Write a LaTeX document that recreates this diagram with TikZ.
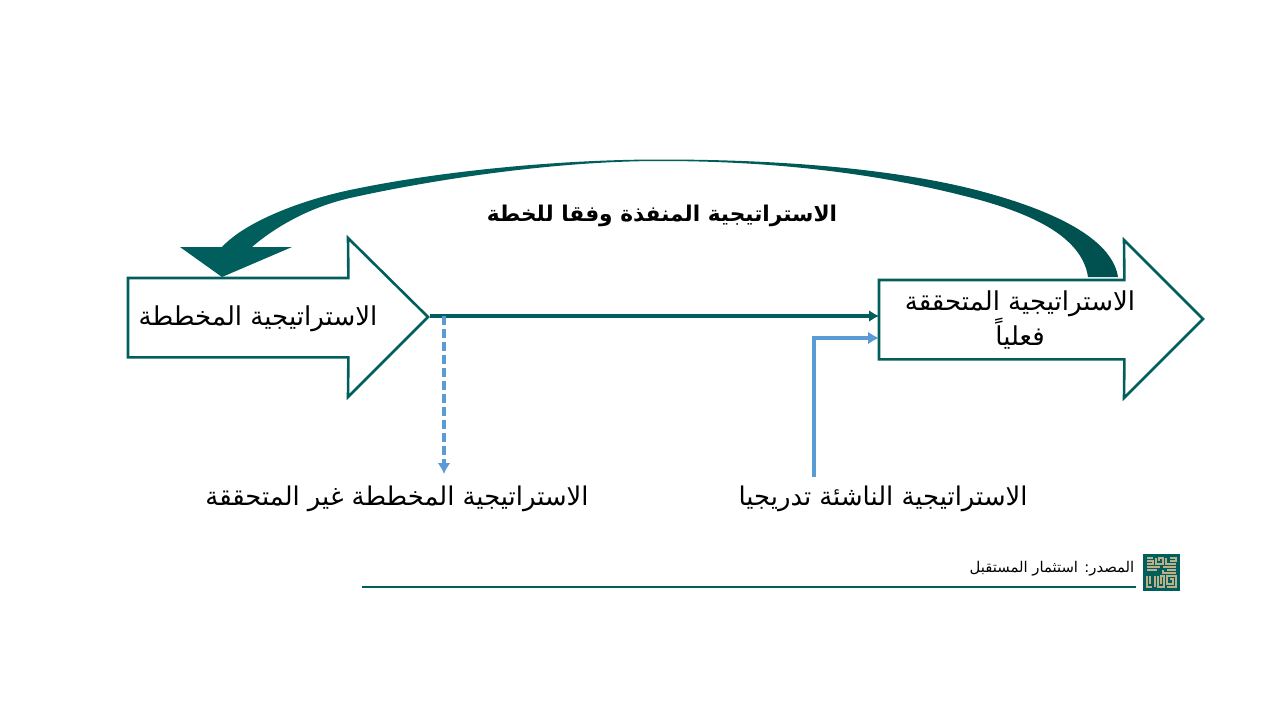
\documentclass[tikz,border=0pt]{standalone}
\usepackage{fontspec}
\usetikzlibrary{arrows.meta}
\TeXXeTstate=1
\newfontfamily\arabicfont[Script=Arabic]{DejaVu Sans}
\definecolor{teal1}{HTML}{005F5C}
\definecolor{teal2}{HTML}{00504F}
\definecolor{blue1}{HTML}{5B9BD5}
\definecolor{tan1}{HTML}{BDB088}
\newcommand{\artxt}[1]{\arabicfont\beginR #1\endR}
\tikzset{
  bodybox/.style={rectangle,inner sep=0pt,minimum height=79pt,anchor=north west},
  outline/.style={draw=teal1,line width=2.6pt,fill=white,line join=miter},
  label/.style={text=black,font=\fontsize{26}{32}\selectfont,align=center,inner sep=0pt},
  tealline/.style={draw=teal1,line width=3.6pt,-{Latex[length=10pt,width=12pt]}},
  blueline/.style={draw=blue1,line width=3.8pt,-{Latex[length=11pt,width=13pt]}},
  logoline/.style={draw=tan1,line width=1.1pt}
}
\begin{document}
\begin{tikzpicture}[x=1pt,y=-1pt]
\useasboundingbox[fill=white] (0,0) rectangle (1280,720);
% big arrows
\node[bodybox,minimum width=220pt] (plan) at (128,278) {};
\node[bodybox,minimum width=245pt] (actual) at (879,280) {};
\draw[outline] (plan.north west) -- (plan.north east) -- (348,238) -- (428,317) -- (348,397) -- (plan.south east) -- (plan.south west) -- cycle;
\draw[outline] (actual.north west) -- (actual.north east) -- (1124,240) -- (1203,319) -- (1124,398) -- (actual.south east) -- (actual.south west) -- cycle;
\coordinate (plantip) at (430,316);
\coordinate (branch) at (444,316);
\coordinate (dashend) at (444,474);
\coordinate (emerge) at (814,477);
\coordinate (emergein) at (879,338);
% sweeping arrow
\shade[left color=teal1,right color=teal2,middle color=teal1,shading angle=90]
  (1118,277) .. controls (1112,238) and (1052,210) .. (980,191)
  .. controls (900,170) and (790,159.5) .. (660,159.5)
  .. controls (560,159.5) and (440,171) .. (350,190)
  .. controls (300,200.5) and (245,222) .. (222,247)
  -- (180,247) -- (222,277) -- (292,247) -- (252,247)
  .. controls (275,227) and (310,207) .. (350,198)
  .. controls (440,178) and (560,161) .. (660,161)
  .. controls (790,161) and (895,177) .. (980,200)
  .. controls (1030,214) and (1082,236) .. (1088,277) -- cycle;
% connectors
\draw[tealline] (plantip) -- (actual.west |- plantip);
\draw[blueline,dashed,dash pattern=on 9pt off 4pt] (branch) -- (dashend);
\draw[blueline] (emerge) -- (814,338) -- (emergein);
% labels
\node[label] (plantext) at (258,319) {\artxt{الاستراتيجية المخططة}};
\node[label] (actualtext) at (1020,320) {\artxt{الاستراتيجية المتحققة}\\\artxt{فعلياً}};
\node[label,font=\fontsize{21.7}{26}\selectfont\bfseries] (title) at (662,216) {\artxt{الاستراتيجية المنفذة وفقا للخطة}};
\node[label,font=\fontsize{25.8}{32}\selectfont] (lostlabel) at (397,499) {\artxt{الاستراتيجية المخططة غير المتحققة}};
\node[label,font=\fontsize{25.8}{32}\selectfont] (emlabel) at (883,499) {\artxt{الاستراتيجية الناشئة تدريجيا}};
\node[label,font=\fontsize{14.8}{18}\selectfont] (source) at (1052,569) {\artxt{المصدر: استثمار المستقبل}};
% footer
\coordinate (ruleA) at (362,587);
\coordinate (ruleB) at (1136,587);
\draw[teal1,line width=2.8pt] (ruleA) -- (ruleB);
\fill[teal1] (1143,554) rectangle (1180,591);
\draw[logoline] (1147,558) -- (1153,558) (1147,561) -- (1153,561) -- (1153,564) -- (1147,564)
 (1156,558) -- (1156,564) -- (1163,564) -- (1163,558) -- (1159,558) -- (1159,561)
 (1166,558) -- (1166,564) -- (1176,564) (1170,558) -- (1176,558) -- (1176,561) -- (1170,561)
 (1147,567) -- (1160,567) (1147,570) -- (1157,570) (1163,567) -- (1176,567) (1163,570) -- (1163,573) -- (1176,573) (1176,570) -- (1167,570)
 (1147,576) -- (1147,587) -- (1152,587) (1150,576) -- (1150,584) (1155,576) -- (1155,587) (1158,576) -- (1158,587) -- (1164,587) -- (1164,576) -- (1161,576) -- (1161,584)
 (1167,587) -- (1176,587) -- (1176,576) -- (1167,576) -- (1167,584) -- (1173,584) -- (1173,579) -- (1170,579);
\end{tikzpicture}
\end{document}
